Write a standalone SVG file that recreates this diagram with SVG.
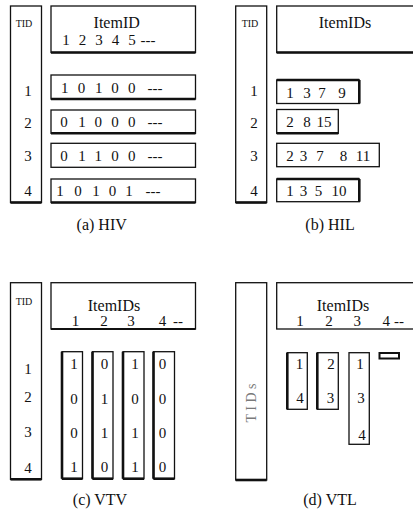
<svg xmlns="http://www.w3.org/2000/svg" width="413" height="513" viewBox="0 0 413 513" font-family="'Liberation Serif', 'Times New Roman', Times, serif">
<style>
.bx{fill:#fff;stroke:#111;stroke-width:1.3}
.tk{stroke:#111;stroke-width:2.6;fill:none}
.n{font-family:'Liberation Serif','Times New Roman',Times,serif;font-size:15px;text-anchor:middle;fill:#111}
.h{font-family:'Liberation Serif','Times New Roman',Times,serif;font-size:16px;text-anchor:middle;fill:#111}
.tid{font-family:'Liberation Serif','Times New Roman',Times,serif;font-size:10px;text-anchor:middle;fill:#111}
.cap{font-family:'Liberation Serif','Times New Roman',Times,serif;font-size:16px;text-anchor:middle;fill:#111}
.vt{font-family:'Liberation Serif','Times New Roman',Times,serif;font-size:14px;text-anchor:middle;fill:#7a7a7a}
</style>
<rect width="413" height="513" fill="#fff"/>

<g id="panel-a">
  <g id="a-tid">
    <rect class="bx" x="10.5" y="6" width="31" height="196.5"/>
    <line class="tk" x1="10.5" y1="202.5" x2="41.5" y2="202.5"/>
    <text class="tid" x="24" y="27">TID</text>
    <text class="n" x="28" y="96">1</text>
    <text class="n" x="28" y="128">2</text>
    <text class="n" x="28" y="161">3</text>
    <text class="n" x="28" y="196">4</text>
  </g>
  <g id="a-header">
    <rect class="bx" x="51" y="6" width="144.5" height="46.5"/>
    <line class="tk" x1="51" y1="52.5" x2="195.5" y2="52.5"/>
    <text class="h" x="116.7" y="28">ItemID</text>
    <text class="n" x="66 82.5 99 115.5 132" y="45">12345</text>
    <text class="n" x="148" y="45">---</text>
  </g>
  <g id="a-row1">
    <rect class="bx" x="51" y="75" width="144.5" height="24"/>
    <line class="tk" x1="51" y1="99" x2="195.5" y2="99"/>
    <text class="n" x="64.7 81.5 98.7 115 131.7" y="93">10100</text>
    <text class="n" x="155" y="93">---</text>
  </g>
  <g id="a-row2">
    <rect class="bx" x="51" y="110" width="144.5" height="23.3"/>
    <line class="tk" x1="51" y1="133.3" x2="195.5" y2="133.3"/>
    <text class="n" x="64 82 98.3 115 131.7" y="127">01000</text>
    <text class="n" x="155" y="127">---</text>
  </g>
  <g id="a-row3">
    <rect class="bx" x="51" y="143.3" width="144.5" height="24"/>
    <text class="n" x="64 82 98.3 115 131.7" y="161">01100</text>
    <text class="n" x="155" y="161">---</text>
  </g>
  <g id="a-row4">
    <rect class="bx" x="51" y="179" width="144.5" height="23.5"/>
    <line class="tk" x1="51" y1="202.5" x2="195.5" y2="202.5"/>
    <text class="n" x="60 78 96 112.5 129" y="196">10101</text>
    <text class="n" x="153" y="196">---</text>
  </g>
  <text class="cap" x="101.7" y="230">(a) HIV</text>
</g>

<g id="panel-b">
  <g id="b-tid">
    <rect class="bx" x="235.7" y="6" width="31" height="196.5"/>
    <line class="tk" x1="235.7" y1="202.5" x2="266.7" y2="202.5"/>
    <text class="tid" x="250" y="27">TID</text>
    <text class="n" x="254" y="96">1</text>
    <text class="n" x="254" y="128">2</text>
    <text class="n" x="254" y="161">3</text>
    <text class="n" x="254" y="196">4</text>
  </g>
  <g id="b-header">
    <rect class="bx" x="276.7" y="6" width="145" height="46.5"/>
    <line class="tk" x1="276.7" y1="52.5" x2="421" y2="52.5"/>
    <text class="h" x="345" y="28">ItemIDs</text>
  </g>
  <g id="b-row1">
    <rect class="bx" x="276.7" y="80" width="82.6" height="23.5"/>
    <line class="tk" x1="276.7" y1="80" x2="359.3" y2="80"/>
    <line class="tk" x1="359.3" y1="80" x2="359.3" y2="103.5"/>
    <text class="n" x="290 307 322 342" y="98">1379</text>
  </g>
  <g id="b-row2">
    <rect class="bx" x="276.7" y="109.5" width="61.6" height="23.8"/>
    <line class="tk" x1="276.7" y1="133.3" x2="338.3" y2="133.3"/>
    <text class="n" x="290 307" y="127">28</text>
    <text class="n" x="324" y="127">15</text>
  </g>
  <g id="b-row3">
    <rect class="bx" x="276.7" y="143.3" width="102.6" height="23.4"/>
    <text class="n" x="290 303.5 320 343.5" y="161">2378</text>
    <text class="n" x="363" y="161">11</text>
  </g>
  <g id="b-row4">
    <rect class="bx" x="276.7" y="179" width="82.6" height="22.7"/>
    <line class="tk" x1="276.7" y1="179" x2="359.3" y2="179"/>
    <line class="tk" x1="359.3" y1="179" x2="359.3" y2="201.7"/>
    <text class="n" x="290 303.5 318.5" y="196">135</text>
    <text class="n" x="339" y="196">10</text>
  </g>
  <text class="cap" x="330" y="230">(b) HIL</text>
</g>

<g id="panel-c">
  <g id="c-tid">
    <rect class="bx" x="10.5" y="282.7" width="31" height="196.6"/>
    <line class="tk" x1="10.5" y1="479.3" x2="41.5" y2="479.3"/>
    <text class="tid" x="24" y="305">TID</text>
    <text class="n" x="28" y="374">1</text>
    <text class="n" x="28" y="402">2</text>
    <text class="n" x="28" y="437">3</text>
    <text class="n" x="28" y="473">4</text>
  </g>
  <g id="c-header">
    <rect class="bx" x="51" y="282.7" width="144.5" height="46.3"/>
    <line class="tk" x1="51" y1="329" x2="195.5" y2="329" style="stroke-width:1.8"/>
    <text class="h" x="114" y="311">ItemIDs</text>
    <text class="n" x="75.5 104 131 162.5" y="326">1234</text>
    <text class="n" x="178" y="326">--</text>
  </g>
  <g id="c-col1">
    <rect class="bx" x="62" y="351.7" width="20.5" height="127"/>
    <line class="tk" x1="62" y1="351.7" x2="62" y2="478.7"/>
    <line class="tk" x1="62" y1="478.7" x2="82.5" y2="478.7"/>
    <text class="n" x="74" y="369">1</text>
    <text class="n" x="74" y="404">0</text>
    <text class="n" x="74" y="438">0</text>
    <text class="n" x="74" y="472">1</text>
  </g>
  <g id="c-col2">
    <rect class="bx" x="92.5" y="351.7" width="20.5" height="127"/>
    <line class="tk" x1="92.5" y1="351.7" x2="92.5" y2="478.7"/>
    <line class="tk" x1="92.5" y1="478.7" x2="113" y2="478.7"/>
    <text class="n" x="104.5" y="369">0</text>
    <text class="n" x="104.5" y="404">1</text>
    <text class="n" x="104.5" y="438">1</text>
    <text class="n" x="104.5" y="472">0</text>
  </g>
  <g id="c-col3">
    <rect class="bx" x="123" y="351.7" width="21" height="127"/>
    <line class="tk" x1="123" y1="351.7" x2="123" y2="478.7"/>
    <line class="tk" x1="123" y1="478.7" x2="144" y2="478.7"/>
    <text class="n" x="135" y="369">1</text>
    <text class="n" x="135" y="404">0</text>
    <text class="n" x="135" y="438">1</text>
    <text class="n" x="135" y="472">1</text>
  </g>
  <g id="c-col4">
    <rect class="bx" x="153.5" y="351.7" width="21" height="127"/>
    <line class="tk" x1="153.5" y1="351.7" x2="153.5" y2="478.7"/>
    <line class="tk" x1="153.5" y1="478.7" x2="174.5" y2="478.7"/>
    <text class="n" x="162.5" y="369">0</text>
    <text class="n" x="162.5" y="404">0</text>
    <text class="n" x="162.5" y="438">0</text>
    <text class="n" x="162.5" y="472">0</text>
  </g>
  <text class="cap" x="100" y="505">(c) VTV</text>
</g>

<g id="panel-d">
  <g id="d-tids">
    <rect class="bx" x="235.7" y="282.7" width="31" height="197.3"/>
    <line class="tk" x1="235.7" y1="480" x2="266.7" y2="480"/>
    <text class="vt" x="255.5" y="403" transform="rotate(-90 255.5 403)">T I D s</text>
  </g>
  <g id="d-header">
    <rect class="bx" x="276.7" y="282.7" width="145" height="46.3"/>
    <text class="h" x="343" y="311">ItemIDs</text>
    <text class="n" x="300 329 357.3 386.3" y="326">1234</text>
    <text class="n" x="399" y="326">--</text>
  </g>
  <g id="d-col1">
    <rect class="bx" x="287.3" y="352.7" width="20" height="56.6"/>
    <line class="tk" x1="287.3" y1="352.7" x2="287.3" y2="409.3"/>
    <text class="n" x="299.5" y="368.5">1</text>
    <text class="n" x="300" y="403">4</text>
  </g>
  <g id="d-col2">
    <rect class="bx" x="317.3" y="352.7" width="21" height="56.6"/>
    <line class="tk" x1="317.3" y1="352.7" x2="317.3" y2="409.3"/>
    <text class="n" x="331" y="368.5">2</text>
    <text class="n" x="330.5" y="403">3</text>
  </g>
  <g id="d-col3">
    <rect class="bx" x="349" y="352.7" width="20.3" height="91.6"/>
    <text class="n" x="360" y="368.5">1</text>
    <text class="n" x="361" y="403">3</text>
    <text class="n" x="362" y="440">4</text>
  </g>
  <g id="d-col4">
    <rect x="379.5" y="353" width="19.5" height="5.5" fill="#fff" stroke="#111" stroke-width="2"/>
  </g>
  <text class="cap" x="330" y="505">(d) VTL</text>
</g>
</svg>
